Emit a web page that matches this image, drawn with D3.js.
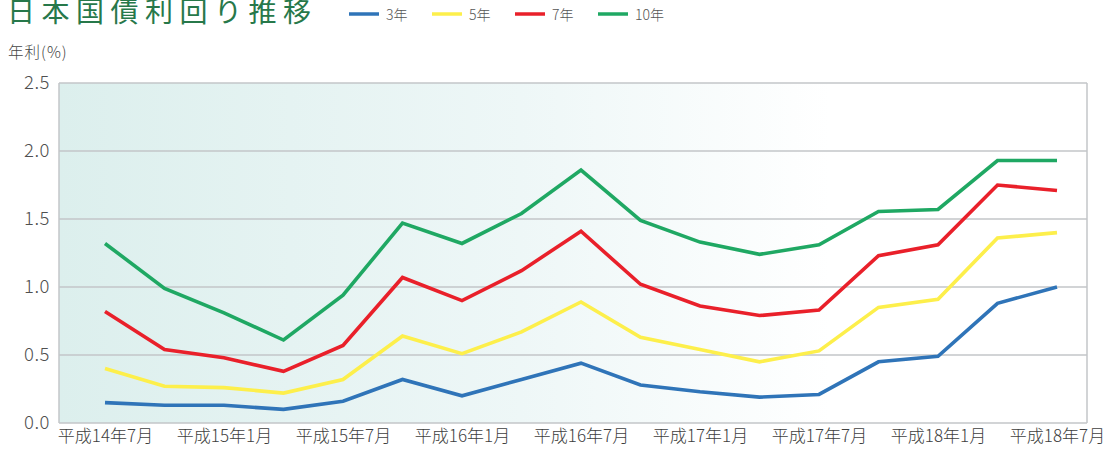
<!DOCTYPE html>
<html><head><meta charset="utf-8">
<script src="https://cdn.jsdelivr.net/npm/d3@7"></script>
<style>
body{margin:0;background:#fff;}
svg{display:block;font-family:"Noto Sans CJK JP","Noto Sans",sans-serif;}
</style></head><body>
<svg id="chart" width="1112" height="455"></svg>
<script>
const categories = ["平成14年7月","平成14年10月","平成15年1月","平成15年4月","平成15年7月","平成15年10月","平成16年1月","平成16年4月","平成16年7月","平成16年10月","平成17年1月","平成17年4月","平成17年7月","平成17年10月","平成18年1月","平成18年4月","平成18年7月"];
const tickLabels = ["平成14年7月","平成15年1月","平成15年7月","平成16年1月","平成16年7月","平成17年1月","平成17年7月","平成18年1月","平成18年7月"];
const yTicks = [0,0.5,1.0,1.5,2.0,2.5];
const seriesNames = ["3年","5年","7年","10年"];
const y3  = [0.15,0.13,0.13,0.10,0.16,0.32,0.20,0.32,0.44,0.28,0.23,0.19,0.21,0.45,0.49,0.88,1.00];
const y5  = [0.40,0.27,0.26,0.22,0.32,0.64,0.51,0.67,0.89,0.63,0.54,0.45,0.53,0.85,0.91,1.36,1.40];
const y7  = [0.82,0.54,0.48,0.38,0.57,1.07,0.90,1.12,1.41,1.02,0.86,0.79,0.83,1.23,1.31,1.75,1.71];
const y10 = [1.32,0.99,0.81,0.61,0.94,1.47,1.32,1.54,1.86,1.49,1.33,1.24,1.31,1.555,1.57,1.93,1.93];
const colors = ["#2f74b8","#fdef4b","#e9202a","#1fa863"];
const seriesVals = [y3,y5,y7,y10];

const svg = d3.select("#chart");
const L=59, R=1087, T=83, B=423;

const defs = svg.append("defs");
const grad = defs.append("linearGradient").attr("id","bg").attr("x1","0").attr("x2","1").attr("y1","0").attr("y2","0");
grad.append("stop").attr("offset","0%").attr("stop-color","#dcefed");
grad.append("stop").attr("offset","45%").attr("stop-color","#eef7f7");
grad.append("stop").attr("offset","75%").attr("stop-color","#ffffff");
grad.append("stop").attr("offset","100%").attr("stop-color","#ffffff");

const x = d3.scalePoint().domain(categories).range([105,1057]);
const y = d3.scaleLinear().domain([0,2.5]).range([B,T]);

svg.append("rect").attr("x",L).attr("y",T).attr("width",R-L).attr("height",B-T).attr("fill","url(#bg)");

// gridlines
svg.append("g").selectAll("line").data(yTicks).join("line")
  .attr("x1",L).attr("x2",R).attr("y1",d=>y(d)).attr("y2",d=>y(d))
  .attr("stroke","#c3c6c8").attr("stroke-width",1.3);
// borders
svg.append("line").attr("x1",L).attr("x2",L).attr("y1",T).attr("y2",B).attr("stroke","#c3c6c8").attr("stroke-width",1.5);
svg.append("line").attr("x1",R).attr("x2",R).attr("y1",T).attr("y2",B).attr("stroke","#c3c6c8").attr("stroke-width",1.5);

// y axis labels
const yAxis = d3.axisLeft(y).tickValues(yTicks).tickFormat(d3.format(".1f")).tickSize(0).tickPadding(9);
const ya = svg.append("g").attr("transform",`translate(${L},0)`).call(yAxis);
ya.select(".domain").remove();
ya.selectAll("text").attr("font-size",18.5).attr("fill","#505050").attr("font-family","'Noto Sans CJK JP',sans-serif").attr("font-weight",300).attr("letter-spacing",0.5).attr("dy","0.3em");

// x axis labels
const xAxis = d3.axisBottom(x).tickValues(tickLabels).tickSize(0).tickPadding(8);
const xa = svg.append("g").attr("transform",`translate(0,${B})`).call(xAxis);
xa.select(".domain").remove();
xa.selectAll("text").attr("font-size",17).attr("fill","#404040").attr("font-family","'Noto Sans CJK JP',sans-serif").attr("font-weight",300).attr("dy","0.62em");

// lines
const line = d3.line().x((d,i)=>x(categories[i])).y(d=>y(d));
seriesVals.forEach((vals,k)=>{
  svg.append("path").datum(vals).attr("d",line).attr("fill","none")
    .attr("stroke",colors[k]).attr("stroke-width",3.6).attr("stroke-linejoin","miter");
});

// title
svg.append("text").attr("x",7).attr("y",22).text("日本国債利回り推移")
  .attr("font-size",28).attr("fill","#27784a").attr("letter-spacing",6.5).attr("font-weight",400);

// y label
svg.append("text").attr("x",8).attr("y",58).text("年利(%)").attr("font-size",15.5).attr("fill","#444").attr("font-weight",300).attr("letter-spacing",1);

// legend
const lx = [349,432,515,598];
seriesNames.forEach((n,k)=>{
  svg.append("line").attr("x1",lx[k]).attr("x2",lx[k]+30).attr("y1",14).attr("y2",14)
    .attr("stroke",colors[k]).attr("stroke-width",3.5);
  svg.append("text").attr("x",lx[k]+37).attr("y",19.5).text(n).attr("font-size",14).attr("fill","#555").attr("font-weight",300);
});
</script>
</body></html>
